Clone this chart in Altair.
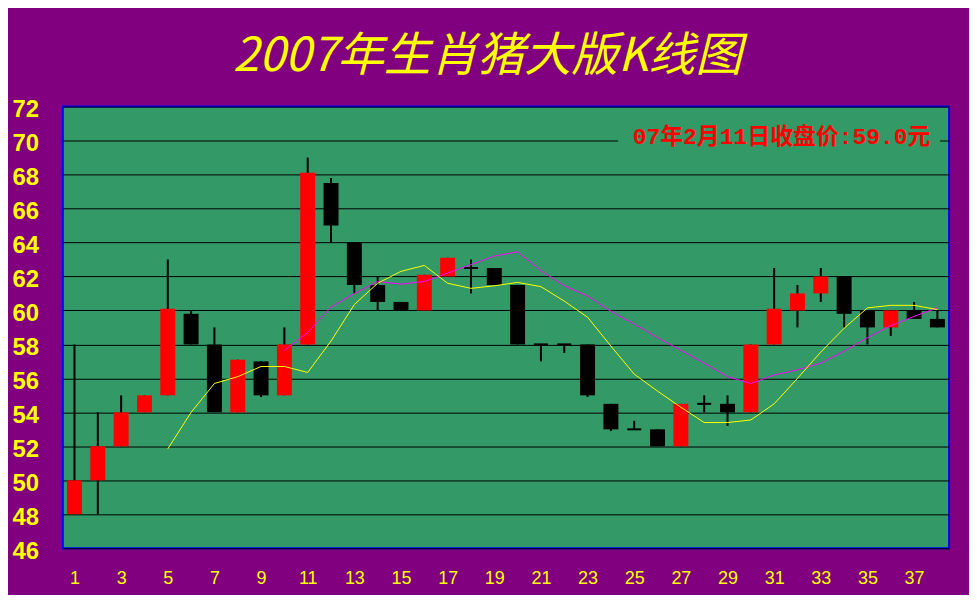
import altair as alt
import pandas as pd

# ---------------- data ----------------
days = list(range(1, 39))
open_ = [48, 50, 52, 54, 55, 59.8, 58, 54, 57, 55, 58, 67.5, 64, 61.5, 60.5, 60, 62, 62.5, 62.5,
         61.5, 58, 58, 58, 54.5, 53, 53, 52, 54.5, 54.5, 54, 58, 60, 61, 62, 60, 59, 60, 59.5]
close = [50, 52, 54, 55, 60.1, 58, 54, 57.1, 55, 58, 68.1, 65, 61.5, 60.5, 60, 62.1, 63.1, 62.5, 61.5,
         58, 58, 58, 55, 53, 53, 52, 54.5, 54.5, 54, 58, 60.1, 61, 62, 59.8, 59, 60, 59.5, 59]
high = [58, 54, 55, 55, 63, 60, 59, 57.1, 57, 59, 69, 67.8, 64, 62, 60.5, 62.1, 63.1, 63, 62.5,
        61.5, 58, 58, 58, 54.5, 53.5, 53, 54.5, 55, 55, 58, 62.5, 61.5, 62.5, 62, 60, 60, 60.5, 60]
low = [48, 48, 52, 54, 55, 58, 54, 54, 54.9, 55, 58, 64, 61, 60, 60, 60, 62, 61, 61.5,
       58, 57, 57.5, 54.9, 52.9, 53, 52, 52, 54, 53.2, 54, 58, 59, 60.5, 59, 58, 58.5, 59.5, 59]

ma5_days = list(range(5, 39))
ma5 = [51.85, 54.0, 55.7, 56.1, 56.7, 56.7, 56.35, 58.2, 60.35, 61.6, 62.3, 62.65, 61.6, 61.3,
       61.45, 61.65, 61.4, 60.55, 59.6, 57.9, 56.25, 55.25, 54.3, 53.4, 53.4, 53.55, 54.5, 56.0,
       57.55, 58.95, 60.15, 60.3, 60.3, 60.05]
ma10_days = list(range(10, 39))
ma10 = [57.65, 58.7, 60.2, 61.0, 61.7, 61.55, 61.7, 62.2, 62.7, 63.2, 63.45, 62.35, 61.45, 60.85,
        59.95, 59.2, 58.4, 57.65, 56.9, 56.1, 55.7, 56.2, 56.5, 56.9, 57.6, 58.4, 59.1, 59.65, 60.15]

y_ticks = list(range(46, 73, 2))
x_ticks = list(range(1, 38, 2))
title_text = "2007年生肖猪大版K线图"
note_text = "07年2月11日收盘价:59.0元"

# ---------------- tables ----------------
df = pd.DataFrame({"day": days, "open": open_, "close": close, "high": high, "low": low})
df["dir"] = ["up" if c > o else ("down" if c < o else "flat") for o, c in zip(open_, close)]
df_body = df[df["dir"] != "flat"]
df_doji = df[df["dir"] == "flat"]
df_ma5 = pd.DataFrame({"day": ma5_days, "v": ma5})
df_ma10 = pd.DataFrame({"day": ma10_days, "v": ma10})

YELLOW = "#FFFF00"
x_scale = alt.Scale(domain=[0.5, 38.5], nice=False, zero=False, padding=0)
y_scale = alt.Scale(domain=[46, 72], nice=False, zero=False, padding=0)

x_axis = alt.Axis(values=x_ticks, title=None, grid=False, domain=False, ticks=False, tickSize=0,
                  labelColor=YELLOW, labelFont="Liberation Sans", labelFontSize=18,
                  labelPadding=30, labelBaseline="middle", labelFlush=False, labelOverlap=False)
y_axis = alt.Axis(values=y_ticks, title=None, grid=True, gridColor="#000000", gridWidth=1,
                  gridOpacity=1, domain=False, ticks=False, tickSize=0,
                  labelColor=YELLOW, labelFont="Liberation Sans",
                  labelFontWeight="bold", labelFontSize=24, labelAlign="left",
                  labelBaseline="middle", labelPadding=51, labelOffset=3,
                  labelFlush=False, labelOverlap=False)


def X():
    return alt.X("day:Q", scale=x_scale, axis=x_axis)


def Y(field):
    return alt.Y(field, scale=y_scale, axis=y_axis)


one = pd.DataFrame({"t": [note_text]})

wicks = alt.Chart(df).mark_rule(color="#000000", strokeWidth=2).encode(
    x=X(), y=Y("low:Q"), y2="high:Q")

bodies = alt.Chart(df_body).mark_bar(size=15, orient="vertical").encode(
    x=X(), y=Y("open:Q"), y2="close:Q",
    color=alt.Color("dir:N", scale=alt.Scale(domain=["up", "down"], range=["#FF0000", "#000000"]),
                    legend=None))

doji = alt.Chart(df_doji).mark_tick(orient="horizontal", thickness=2, size=14, color="#000000",
                                    opacity=1).encode(x=X(), y=Y("open:Q"))

line10 = alt.Chart(df_ma10).mark_line(color="#FF00FF", strokeWidth=1).encode(
    x=X(), y=Y("v:Q"))

line5 = alt.Chart(df_ma5).mark_line(color=YELLOW, strokeWidth=1).encode(
    x=X(), y=Y("v:Q"))

note_bg = alt.Chart(one).mark_rect(color="#339966").encode(
    x=alt.value(557), x2=alt.value(880), y=alt.value(19), y2=alt.value(44))

note = alt.Chart(one).mark_text(
    color="#FF0000", font="Liberation Mono, Noto Sans CJK SC", fontWeight="bold", fontSize=23,
    align="center", baseline="middle").encode(
    text="t:N", x=alt.value(721), y=alt.value(31))

title = alt.Chart(pd.DataFrame({"t": [title_text]})).mark_text(
    color=YELLOW, font="Noto Sans CJK SC", fontStyle="italic", fontSize=47,
    align="center", baseline="middle").encode(
    text="t:N", x=alt.value(426), y=alt.value(-50))

chart = alt.layer(wicks, bodies, doji, line10, line5, note_bg, note, title).properties(
    width=889, height=443,
    autosize=alt.AutoSizeParams(type="none"),
    padding={"left": 55, "top": 98, "right": 20, "bottom": 46},
).configure(background="#800080").configure_view(
    fill="#339966", stroke="#0000FF", strokeWidth=2)

chart.save("out.html", embed_options={"renderer": "svg", "actions": False})
